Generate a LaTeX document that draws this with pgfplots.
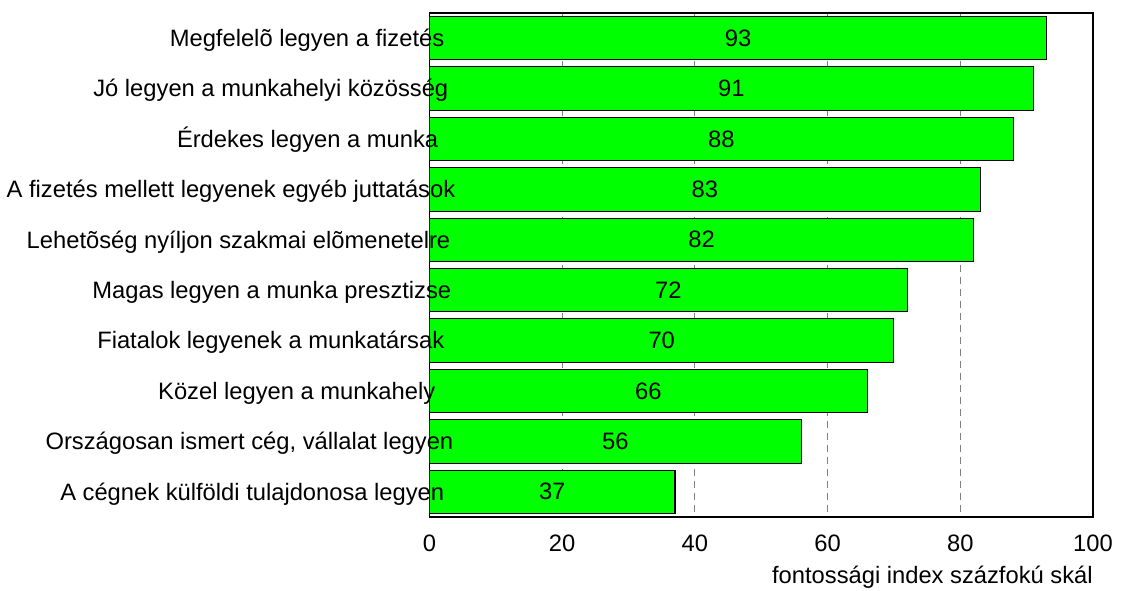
\documentclass[border=0pt]{standalone}
\usepackage{pgfplots}
\usepackage{pgfplotstable}
\pgfplotsset{compat=1.18}
\usepackage{fontspec}
\setmainfont{Liberation Sans}

% top bar first
\pgfplotstableread{
pos val
0 93
1 91
2 88
3 83
4 82
5 72
6 70
7 66
8 56
9 37
}\scores

\newcommand\chartfont{\fontsize{17.8}{21}\selectfont}

\begin{document}
\begin{tikzpicture}
\begin{axis}[
    set layers,
    scale only axis,
    width=497.6pt, height=378pt,
    xmin=0, xmax=100,
    ymin=-0.5, ymax=9.5,
    y dir=reverse,
    xtick={0,20,40,60,80,100},
    ytick={0,...,9},
    % the labels in the original do not end at quite the same place
    yticklabels={
        Megfelelõ legyen a fizetés\kern2.25pt,
        Jó legyen a munkahelyi közösség\kern-0.75pt,
        Érdekes legyen a munka\kern6.75pt,
        A fizetés mellett legyenek egyéb juttatások\kern-6pt,
        Lehetõség nyíljon szakmai elõmenetelre\kern-2.25pt,
        Magas legyen a munka presztizse\kern-3pt,
        Fiatalok legyenek a munkatársak\kern2.25pt,
        Közel legyen a munkahely\kern9pt,
        {Országosan ismert cég, vállalat legyen\kern-4.5pt},
        A cégnek külföldi tulajdonosa legyen\kern2.25pt},
    major tick length=0pt,
    xmajorgrids=true,
    major grid style={gray, dash pattern=on 5pt off 4pt, line width=0.7pt},
    axis line style={black, line width=0.8pt},
    /pgf/number format/assume math mode=true,
    tick label style={font=\chartfont},
    xticklabel style={anchor=base, yshift=-25.5pt},
    yticklabel style={anchor=base east, inner sep=0pt, xshift=13.5pt, yshift=-6.2pt,
        /pgfplots/on layer=axis foreground},
    xlabel={fontossági index százfokú skál},
    xlabel style={at={(rel axis cs:1,0)}, anchor=base east, inner sep=0pt,
        yshift=-50pt, font=\chartfont},
    xbar,
    bar width=0.86,
]
\addplot[fill={rgb,255:red,0;green,255;blue,0}, draw=black, line width=0.8pt]
    table[x=val, y=pos] {\scores};
\addplot[only marks, mark=none,
    nodes near coords={\pgfmathprintnumber{\pgfplotspointmeta}},
    nodes near coords style={anchor=center, font=\chartfont},
    point meta=explicit]
    table[x expr=\thisrow{val}/2, y=pos, meta=val] {\scores};
\end{axis}
\pgfresetboundingbox
\useasboundingbox (-322.125pt,-54.75pt) rectangle (519.375pt,387.75pt);
\end{tikzpicture}
\end{document}
